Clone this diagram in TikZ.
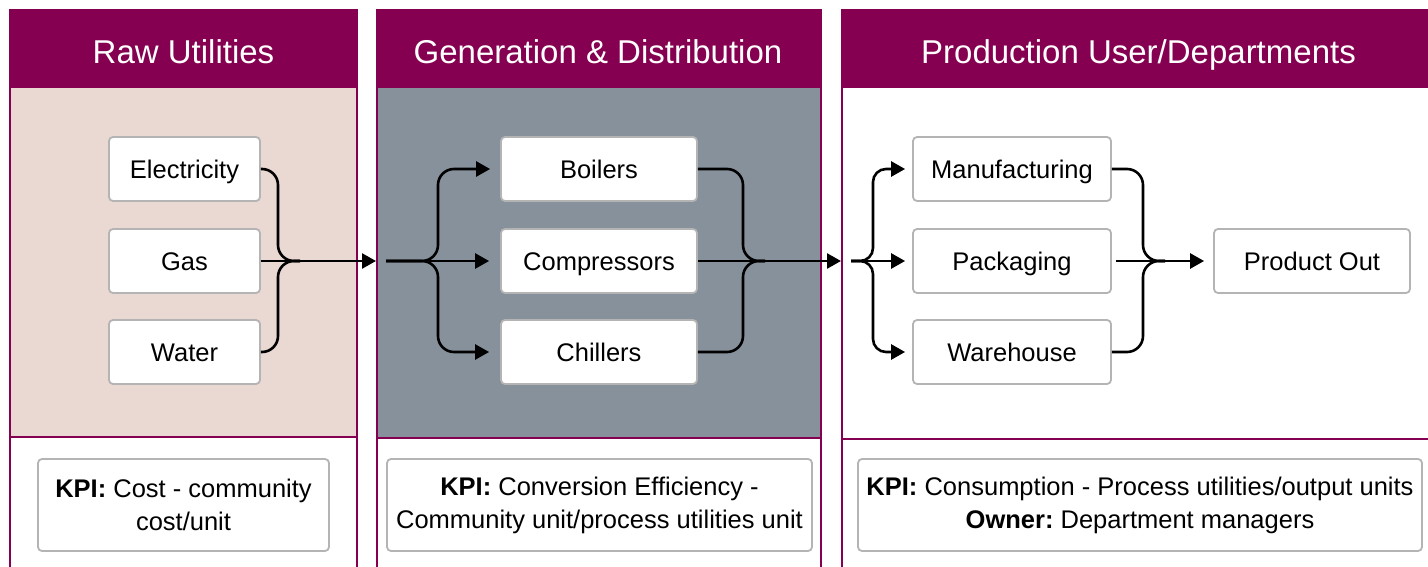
\documentclass[tikz,border=0pt]{standalone}
\usepackage{fontspec}
\setmainfont{Liberation Sans}
\usetikzlibrary{arrows.meta}
\definecolor{hdr}{HTML}{850050}
\definecolor{rawbg}{HTML}{EAD8D3}
\definecolor{genbg}{HTML}{87919C}
\definecolor{boxgray}{HTML}{B4B4B4}
\begin{document}
\begin{tikzpicture}[x=1pt,y=-1pt,
  paneledge/.style={draw=hdr,line width=1.6pt},
  headtext/.style={text=white,font=\fontsize{33}{40}\selectfont,anchor=base,inner sep=0pt},
  unitbox/.style={draw=boxgray,line width=1.8pt,rounded corners=4pt,fill=white,minimum height=64pt,inner sep=0pt,text height=18.3pt,text depth=0pt,font=\fontsize{25.5}{31}\selectfont},
  kpibox/.style={draw=boxgray,line width=1.8pt,rounded corners=4pt,fill=white,minimum height=92pt,inner sep=0pt,align=center,font=\fontsize{25.5}{33}\selectfont},
  link/.style={line width=2.6pt,draw=black},
  flow/.style={link,-{Triangle[length=14pt,width=15pt]}},
  curvy/.style={rounded corners=16pt},
  tightcurvy/.style={rounded corners=13pt}
]
\useasboundingbox (0,0) rectangle (1428,567);
\clip (0,0) rectangle (1428,567);

% panel backgrounds
\fill[rawbg] (10,88) rectangle (357,437);
\fill[genbg] (377,88) rectangle (821,438);
\fill[hdr] (10,10) rectangle (357,88);
\fill[hdr] (377,10) rectangle (821,88);
\fill[hdr] (842,10) rectangle (1440,88);
\draw[paneledge] (10,580) -- (10,10) -- (357,10) -- (357,580);
\draw[paneledge] (10,437) -- (357,437);
\draw[paneledge] (377,580) -- (377,10) -- (821,10) -- (821,580);
\draw[paneledge] (377,438) -- (821,438);
\draw[paneledge] (842,580) -- (842,10) -- (1440,10);
\draw[paneledge] (842,439) -- (1440,439);

% titles
\node[headtext] (t1) at (183.5,64) {Raw Utilities};
\node[headtext] (t2) at (598,64) {Generation \& Distribution};
\node[headtext] (t3) at (1138.5,64) {Production User/Departments};

% raw utilities
\node[unitbox,minimum width=151pt] (elec) at (184.5,169) {Electricity};
\node[unitbox,minimum width=151pt] (gas) at (184.5,261) {Gas};
\node[unitbox,minimum width=151pt] (water) at (184.5,352) {Water};

% generation
\node[unitbox,minimum width=196pt] (boil) at (599,169) {Boilers};
\node[unitbox,minimum width=196pt] (comp) at (599,261) {Compressors};
\node[unitbox,minimum width=196pt] (chil) at (599,352) {Chillers};

% production
\node[unitbox,minimum width=198pt] (manu) at (1012,169) {Manufacturing};
\node[unitbox,minimum width=198pt] (pack) at (1012,261) {Packaging};
\node[unitbox,minimum width=198pt] (ware) at (1012,352) {Warehouse};
\node[unitbox,minimum width=196pt] (prod) at (1312,261) {Product Out};

% KPI boxes
\node[kpibox,minimum width=291pt] (k1) at (183.5,505) {\textbf{KPI:} Cost - community\\cost/unit};
\node[kpibox,minimum width=425pt] (k2) at (599.5,505) {\textbf{KPI:} Conversion Efficiency -\\Community unit/process utilities unit};
\node[kpibox,minimum width=564pt] (k3) at (1140,505) {\textbf{KPI:} Consumption - Process utilities/output units\\\textbf{Owner:}~Department managers};

% junction coordinates
\coordinate (v1) at (278,261);
\coordinate (j1) at (300,261);
\coordinate (p2in) at (376,261);
\coordinate (s2) at (386,261);
\coordinate (v2) at (438,261);
\coordinate (v3) at (743,261);
\coordinate (j3) at (765,261);
\coordinate (p3in) at (841,261);
\coordinate (s4) at (851,261);
\coordinate (v4) at (873,261);
\coordinate (v5) at (1143,261);
\coordinate (j5) at (1165,261);

% panel 1 merge
\draw[link,curvy] (elec.east) -| (v1) -- (j1);
\draw[link,curvy] (water.east) -| (v1) -- (j1);
\draw[flow] (gas.east) -- (p2in);

% panel 2 split
\draw[flow,shorten >=11pt] (s2) -- (comp.west);
\draw[flow,curvy,shorten >=10pt] (s2) -- (v2) |- (boil.west);
\draw[flow,curvy,shorten >=11pt] (s2) -- (v2) |- (chil.west);

% panel 2 merge
\draw[link,curvy] (boil.east) -| (v3) -- (j3);
\draw[link,curvy] (chil.east) -| (v3) -- (j3);
\draw[flow] (comp.east) -- (p3in);

% panel 3 split
\draw[flow,shorten >=7pt] (s4) -- (pack.west);
\draw[flow,tightcurvy,shorten >=7pt] (s4) -- (v4) |- (manu.west);
\draw[flow,tightcurvy,shorten >=7pt] (s4) -- (v4) |- (ware.west);

% panel 3 merge
\draw[link,curvy] (manu.east) -| (v5) -- (j5);
\draw[link,curvy] (ware.east) -| (v5) -- (j5);
\draw[flow,shorten <=4pt,shorten >=9pt] (pack.east) -- (prod.west);
\end{tikzpicture}
\end{document}
